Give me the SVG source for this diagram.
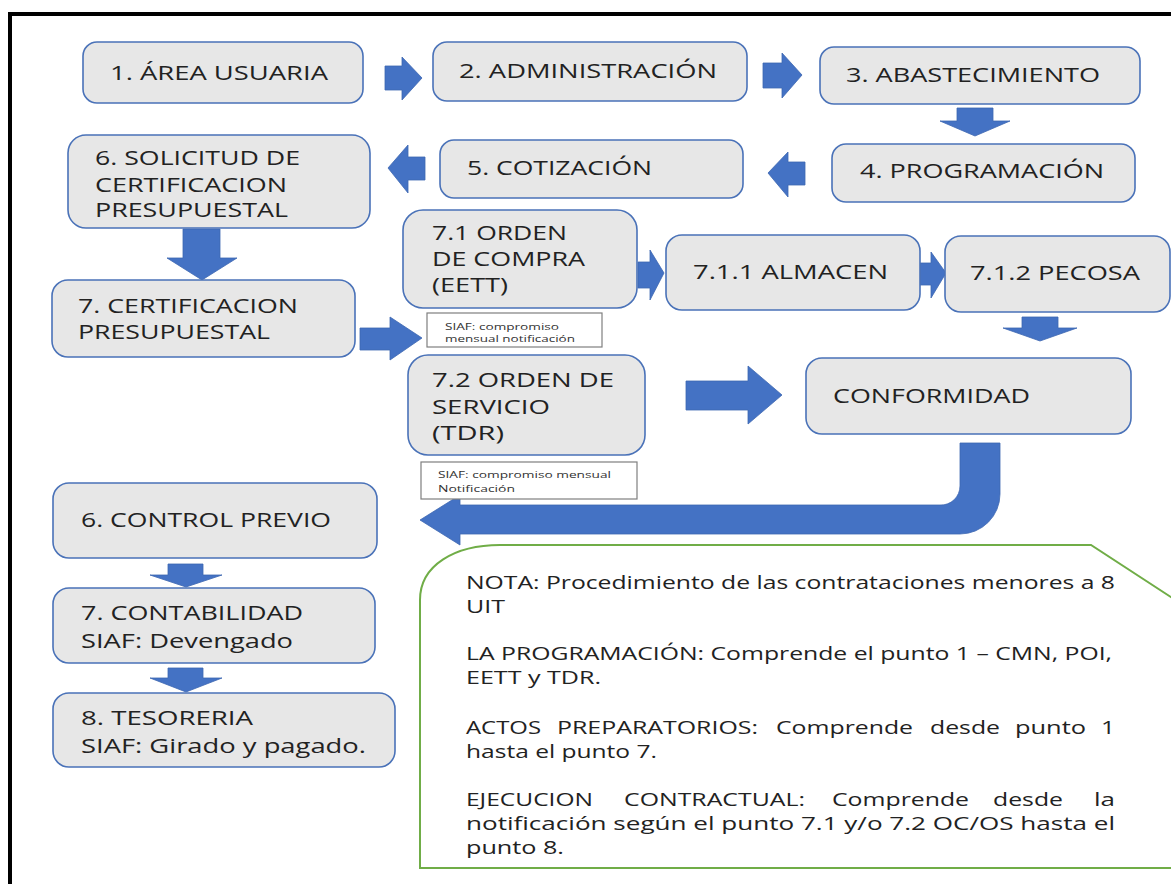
<svg xmlns="http://www.w3.org/2000/svg" width="1171" height="884" viewBox="0 0 1171 884">
<style>
.box{fill:#e7e7e7;stroke:#4a72b8;stroke-width:1.6}
.t{font-family:"Open Sans","Liberation Sans",sans-serif;font-size:20px;fill:#222}
.s{font-family:"Open Sans","Liberation Sans",sans-serif;font-size:9.5px;fill:#333}
.n{font-family:"Open Sans","Liberation Sans",sans-serif;font-size:17.5px;fill:#222}
.sb{fill:#fff;stroke:#7f7f7f;stroke-width:1.2}
.ar{fill:#4472c4;stroke:#3e67b1;stroke-width:0.8}
</style>
<rect x="0" y="0" width="1171" height="884" fill="#fff"/>
<rect x="10" y="14" width="1200" height="900" fill="#fff" stroke="#000" stroke-width="4"/>

<g id="connectors">
<polygon class="ar" points="385,66 402,66 402,57 422,78 402,100 402,90 385,90"/>
<polygon class="ar" points="763,63 782,63 782,53 802,75 782,98 782,88 763,88"/>
<polygon class="ar" points="957,108 993,108 993,121 1010,121 975,136 940,121 957,121"/>
<polygon class="ar" points="805,162 788,162 788,152 768,173 788,197 788,185 805,185"/>
<polygon class="ar" points="425,157 408,157 408,145 388,168 408,193 408,180 425,180"/>
<polygon class="ar" points="183,229 220,229 220,258 237,258 202,280 167,258 183,258"/>
<polygon class="ar" points="360,328 390,328 390,317 422,338 390,360 390,350 360,350"/>
<polygon class="ar" points="638,262 650,262 650,250 664,273 650,300 650,288 638,288"/>
<polygon class="ar" points="920,263 931,263 931,252 946,273 931,298 931,285 920,285"/>
<polygon class="ar" points="1022,317 1058,317 1058,328 1077,328 1040,341 1003,328 1022,328"/>
<polygon class="ar" points="686,381 748,381 748,366 782,395 748,424 748,410 686,410"/>
<path class="ar" d="M960,443 L1000,443 L1000,494 A40,40 0 0 1 960,534 L460,534 L460,545 L420,520 L460,495 L460,505 L940,505 A19,19 0 0 0 960,486 Z"/>
<polygon class="ar" points="168,564 203,564 203,575 222,575 186,587 150,575 168,575"/>
<polygon class="ar" points="168,668 203,668 203,678 222,678 186,692 150,678 168,678"/>
</g>

<g id="n1"><rect class="box" x="83" y="42" width="280" height="61" rx="14"/>
<text class="t" x="110" y="80" textLength="218" lengthAdjust="spacingAndGlyphs">1. ÁREA USUARIA</text></g>
<g id="n2"><rect class="box" x="433" y="42" width="314" height="59" rx="14"/>
<text class="t" x="459" y="78" textLength="258" lengthAdjust="spacingAndGlyphs">2. ADMINISTRACIÓN</text></g>
<g id="n3"><rect class="box" x="820" y="47" width="320" height="57" rx="14"/>
<text class="t" x="846" y="82" textLength="254" lengthAdjust="spacingAndGlyphs">3. ABASTECIMIENTO</text></g>
<g id="n4"><rect class="box" x="832" y="144" width="303" height="58" rx="14"/>
<text class="t" x="860" y="178" textLength="244" lengthAdjust="spacingAndGlyphs">4. PROGRAMACIÓN</text></g>
<g id="n5"><rect class="box" x="440" y="140" width="303" height="58" rx="14"/>
<text class="t" x="467" y="175" textLength="185" lengthAdjust="spacingAndGlyphs">5. COTIZACIÓN</text></g>
<g id="n6"><rect class="box" x="68" y="135" width="302" height="93" rx="18"/>
<text class="t" x="95" y="165" textLength="205" lengthAdjust="spacingAndGlyphs">6. SOLICITUD DE</text>
<text class="t" x="95" y="192" textLength="192" lengthAdjust="spacingAndGlyphs">CERTIFICACION</text>
<text class="t" x="95" y="217" textLength="193" lengthAdjust="spacingAndGlyphs">PRESUPUESTAL</text></g>
<g id="n7"><rect class="box" x="52" y="280" width="303" height="77" rx="16"/>
<text class="t" x="78" y="313" textLength="220" lengthAdjust="spacingAndGlyphs">7. CERTIFICACION</text>
<text class="t" x="78" y="338.5" textLength="192" lengthAdjust="spacingAndGlyphs">PRESUPUESTAL</text></g>
<g id="n71"><rect class="box" x="403" y="210" width="234" height="98" rx="20"/>
<text class="t" x="432" y="240" textLength="135" lengthAdjust="spacingAndGlyphs">7.1 ORDEN</text>
<text class="t" x="432" y="266" textLength="153" lengthAdjust="spacingAndGlyphs">DE COMPRA</text>
<text class="t" x="432" y="292" textLength="76" lengthAdjust="spacingAndGlyphs">(EETT)</text></g>
<g id="siaf1"><rect class="sb" x="427" y="313" width="175" height="34"/>
<text class="s" x="445" y="330" textLength="114" lengthAdjust="spacingAndGlyphs">SIAF: compromiso</text>
<text class="s" x="445" y="341.5" textLength="130" lengthAdjust="spacingAndGlyphs">mensual notificación</text></g>
<g id="n711"><rect class="box" x="666" y="235" width="254" height="75" rx="16"/>
<text class="t" x="693" y="279" textLength="195" lengthAdjust="spacingAndGlyphs">7.1.1 ALMACEN</text></g>
<g id="n712"><rect class="box" x="945" y="236" width="225" height="76" rx="16"/>
<text class="t" x="970" y="280" textLength="170" lengthAdjust="spacingAndGlyphs">7.1.2 PECOSA</text></g>
<g id="n72"><rect class="box" x="408" y="355" width="237" height="100" rx="20"/>
<text class="t" x="432" y="387" textLength="182" lengthAdjust="spacingAndGlyphs">7.2 ORDEN DE</text>
<text class="t" x="432" y="414" textLength="118" lengthAdjust="spacingAndGlyphs">SERVICIO</text>
<text class="t" x="432" y="440" textLength="72" lengthAdjust="spacingAndGlyphs">(TDR)</text></g>
<g id="nconf"><rect class="box" x="806" y="358" width="325" height="76" rx="16"/>
<text class="t" x="833" y="403" textLength="197" lengthAdjust="spacingAndGlyphs">CONFORMIDAD</text></g>
<g id="siaf2"><rect class="sb" x="421" y="462" width="216" height="37"/>
<text class="s" x="438" y="478" textLength="173" lengthAdjust="spacingAndGlyphs">SIAF: compromiso mensual</text>
<text class="s" x="438" y="492" textLength="77" lengthAdjust="spacingAndGlyphs">Notificación</text></g>
<g id="ncp"><rect class="box" x="53" y="483" width="324" height="75" rx="16"/>
<text class="t" x="81" y="527" textLength="250" lengthAdjust="spacingAndGlyphs">6. CONTROL PREVIO</text></g>
<g id="ncont"><rect class="box" x="53" y="588" width="322" height="75" rx="16"/>
<text class="t" x="81" y="620" textLength="222" lengthAdjust="spacingAndGlyphs">7. CONTABILIDAD</text>
<text class="t" x="81" y="648" textLength="212" lengthAdjust="spacingAndGlyphs">SIAF: Devengado</text></g>
<g id="ntes"><rect class="box" x="53" y="693" width="342" height="74" rx="16"/>
<text class="t" x="81" y="725" textLength="172" lengthAdjust="spacingAndGlyphs">8. TESORERIA</text>
<text class="t" x="81" y="753" textLength="285" lengthAdjust="spacingAndGlyphs">SIAF: Girado y pagado.</text></g>

<g id="nota">
<path d="M420,868 L420,600 C420,565 455,545 500,545 L1091,545 L1200,616 L1200,868 Z" fill="#fff" stroke="#70ad47" stroke-width="2"/>
<text class="n" x="466" y="589" textLength="649" lengthAdjust="spacingAndGlyphs">NOTA: Procedimiento de las contrataciones menores a 8</text>
<text class="n" x="466" y="613" textLength="39" lengthAdjust="spacingAndGlyphs">UIT</text>
<text class="n" x="466" y="660" textLength="646" lengthAdjust="spacingAndGlyphs">LA PROGRAMACIÓN: Comprende el punto 1 – CMN, POI,</text>
<text class="n" x="466" y="684" textLength="135" lengthAdjust="spacingAndGlyphs">EETT y TDR.</text>
<text class="n" y="734"><tspan x="466" textLength="75" lengthAdjust="spacingAndGlyphs">ACTOS</tspan><tspan x="557" textLength="201" lengthAdjust="spacingAndGlyphs">PREPARATORIOS:</tspan><tspan x="776" textLength="137" lengthAdjust="spacingAndGlyphs">Comprende</tspan><tspan x="930" textLength="70" lengthAdjust="spacingAndGlyphs">desde</tspan><tspan x="1015" textLength="71" lengthAdjust="spacingAndGlyphs">punto</tspan><tspan x="1101" textLength="14" lengthAdjust="spacingAndGlyphs">1</tspan></text>
<text class="n" x="466" y="758" textLength="191" lengthAdjust="spacingAndGlyphs">hasta el punto 7.</text>
<text class="n" y="806"><tspan x="466" textLength="127" lengthAdjust="spacingAndGlyphs">EJECUCION</tspan><tspan x="624" textLength="181" lengthAdjust="spacingAndGlyphs">CONTRACTUAL:</tspan><tspan x="832" textLength="137" lengthAdjust="spacingAndGlyphs">Comprende</tspan><tspan x="993" textLength="70" lengthAdjust="spacingAndGlyphs">desde</tspan><tspan x="1094" textLength="21" lengthAdjust="spacingAndGlyphs">la</tspan></text>
<text class="n" x="466" y="830" textLength="649" lengthAdjust="spacingAndGlyphs">notificación según el punto 7.1 y/o 7.2 OC/OS hasta el</text>
<text class="n" x="466" y="854" textLength="98" lengthAdjust="spacingAndGlyphs">punto 8.</text>
</g>
</svg>
